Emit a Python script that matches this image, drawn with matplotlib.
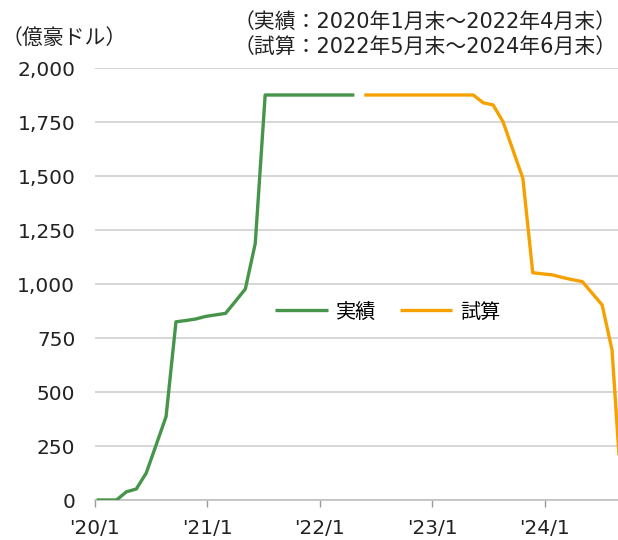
import matplotlib
matplotlib.use("Agg")
import matplotlib.pyplot as plt

plt.rcParams['font.family'] = ['DejaVu Sans', 'Noto Sans CJK JP']

# 月次データ（億豪ドル）: 実績 2020/1〜、試算はその続き
actual = [0, 0, 0, 38, 51, 125, 255, 386, 825, 831, 838, 850, 857, 864, 920,
          977, 1188, 1875, 1875, 1875, 1875, 1875, 1875, 1875, 1875, 1875, 1875]
estimate = [1875, 1875, 1875, 1875, 1875, 1875, 1875, 1875, 1875, 1875, 1875, 1875,
            1839, 1829, 1751, 1620, 1489, 1052, 1047, 1042, 1030, 1020, 1011,
            957, 903, 694, 0]
tick_labels = ["'20/1", "'21/1", "'22/1", "'23/1", "'24/1"]
y_ticks = [0, 250, 500, 750, 1000, 1250, 1500, 1750, 2000]

x_actual = list(range(len(actual)))
x_estimate = list(range(len(actual), len(actual) + len(estimate)))

green = '#46954a'
orange = '#f7a100'
grid_c = '#d0d0d0'

fig = plt.figure(figsize=(6.18, 5.40), dpi=100)
ax = fig.add_axes([94.7 / 618, 40 / 540, 1 - 94.7 / 618, 432 / 540])

# 線は軸線より前面に描く
ax.plot(x_actual, actual, color=green, lw=2.4, label='実績', solid_capstyle='butt', zorder=3)
ax.plot(x_estimate, estimate, color=orange, lw=2.4, label='試算', solid_capstyle='butt', zorder=3)

ax.set_ylim(0, 2000)
ax.set_xlim(-0.2, 52.6)
ax.set_yticks(y_ticks)
ax.set_yticklabels([f'{v:,}' for v in y_ticks])
ax.set_xticks([-0.2 + 11.35 * k for k in range(len(tick_labels))])
ax.set_xticklabels(tick_labels)

ax.grid(axis='y', color=grid_c, lw=1.2)
ax.set_axisbelow(True)
for s in ['top', 'right', 'left']:
    ax.spines[s].set_visible(False)
ax.spines['bottom'].set_color('#bfbfbf')
ax.spines['bottom'].set_linewidth(1.2)
ax.tick_params(axis='y', length=0, pad=14, labelsize=14.5, colors='#222222')
ax.tick_params(axis='x', length=5, width=1, color='#999999', pad=9,
               labelsize=14.5, labelcolor='#222222', direction='out')

leg = ax.legend(loc='center', bbox_to_anchor=(388 / 618, 228 / 540),
                bbox_transform=fig.transFigure, ncol=2, frameon=False,
                fontsize=14.5, handlelength=2.6, columnspacing=1.2, handletextpad=0.4)

fig.text(0.002, 1 - 38 / 540, '（億豪ドル）', fontsize=15, va='center', ha='left',
         color='#222222')
fig.text(0.998, 1 - 22 / 540, '（実績：2020年1月末～2022年4月末）', fontsize=15,
         va='center', ha='right', color='#222222')
fig.text(0.998, 1 - 47 / 540, '（試算：2022年5月末～2024年6月末）', fontsize=15,
         va='center', ha='right', color='#222222')

fig.savefig('out.png', dpi=100)
